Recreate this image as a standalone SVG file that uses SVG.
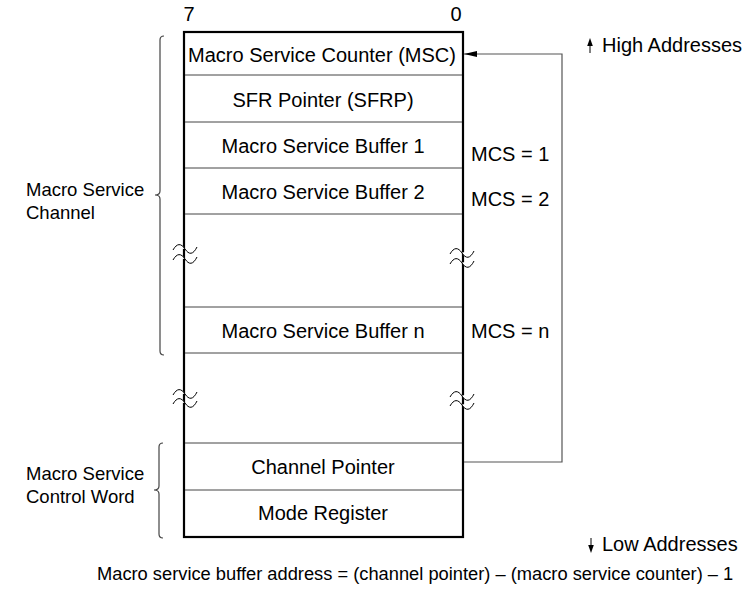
<svg xmlns="http://www.w3.org/2000/svg" width="744" height="591" viewBox="0 0 744 591">
<style>
text{font-family:"Liberation Sans",Arial,sans-serif;font-size:20px;fill:#000}
.c{text-anchor:middle}
.lbl{font-size:18.5px}
.row{stroke:#444;stroke-width:1;fill:none}
.box{stroke:#000;stroke-width:2.2;fill:none}
.brk{stroke:#000;stroke-width:1;fill:#fff}
.brace{stroke:#444;stroke-width:1.2;fill:none}
.conn{stroke:#555;stroke-width:1.2;fill:none}
.sm{stroke:#000;stroke-width:1;fill:none}
</style>
<defs>
<marker id="ah" markerWidth="14" markerHeight="8" refX="13" refY="4" orient="auto" markerUnits="userSpaceOnUse">
<path d="M0,1 L13,4 L0,7 z" fill="#000"/>
</marker>
</defs>
<rect width="744" height="591" fill="#fff"/>
<text x="189" y="21" class="c">7</text>
<text x="456" y="21" class="c">0</text>
<g id="memory">
<rect class="box" x="184" y="32" width="279" height="505"/>
<line class="row" x1="185" y1="75" x2="462" y2="75"/>
<line class="row" x1="185" y1="122" x2="462" y2="122"/>
<line class="row" x1="185" y1="168" x2="462" y2="168"/>
<line class="row" x1="185" y1="214" x2="462" y2="214"/>
<line class="row" x1="185" y1="307" x2="462" y2="307"/>
<line class="row" x1="185" y1="353" x2="462" y2="353"/>
<line class="row" x1="185" y1="443" x2="462" y2="443"/>
<line class="row" x1="185" y1="490" x2="462" y2="490"/>
</g>
<g id="msc"><text x="322" y="62" class="c">Macro Service Counter (MSC)</text></g>
<g id="sfrp"><text x="323" y="107" class="c">SFR Pointer (SFRP)</text></g>
<g id="buf1"><text x="323" y="153" class="c">Macro Service Buffer 1</text><text x="471" y="161">MCS = 1</text></g>
<g id="buf2"><text x="323" y="199" class="c">Macro Service Buffer 2</text><text x="471" y="206">MCS = 2</text></g>
<g id="bufn"><text x="323" y="338" class="c">Macro Service Buffer n</text><text x="471" y="338">MCS = n</text></g>
<g id="chp"><text x="323" y="474" class="c">Channel Pointer</text></g>
<g id="mode"><text x="323" y="520" class="c">Mode Register</text></g>
<g id="breaks">
<path class="brk" d="M173,250 C177,243 181,243 185,249 C189,255 193,255 197,247"/>
<path class="brk" d="M173,260 C177,253 181,253 185,259 C189,265 193,265 197,257"/>
<path class="brk" d="M450,254 C454,247 458,247 462,253 C466,259 470,259 474,251"/>
<path class="brk" d="M450,264 C454,257 458,257 462,263 C466,269 470,269 474,261"/>
<path class="brk" d="M173,395 C177,388 181,388 185,394 C189,400 193,400 197,392"/>
<path class="brk" d="M173,404 C177,397 181,397 185,403 C189,409 193,409 197,401"/>
<path class="brk" d="M450,397 C454,390 458,390 462,396 C466,402 470,402 474,394"/>
<path class="brk" d="M450,406 C454,399 458,399 462,405 C466,411 470,411 474,403"/>
</g>
<g id="channel-label">
<path class="brace" d="M164,36 Q160,36 160,40 L160,191 Q160,195 155,195 Q160,195 160,199 L160,351 Q160,355 164,355"/>
<text class="lbl" x="26" y="196">Macro Service</text>
<text class="lbl" x="26" y="219">Channel</text>
</g>
<g id="control-label">
<path class="brace" d="M163,443 Q159,443 159,447 L159,486 Q159,490 154,490 Q159,490 159,494 L159,534 Q159,538 163,538"/>
<text class="lbl" x="26" y="480">Macro Service</text>
<text class="lbl" x="26" y="503">Control Word</text>
</g>
<g id="addr">
<line class="sm" x1="590" y1="53" x2="590" y2="44"/>
<polygon points="587.2,46 592.8,46 590,38" fill="#000"/>
<text x="602" y="52">High Addresses</text>
<line class="sm" x1="591" y1="538" x2="591" y2="547"/>
<polygon points="588.2,545 593.8,545 591,553" fill="#000"/>
<text x="602" y="551">Low Addresses</text>
</g>
<g id="connectors">
<polyline class="conn" points="464,462 562,462 562,54 464,54" marker-end="url(#ah)"/>
</g>
<text x="97" y="580" style="font-size:18.3px">Macro service buffer address = (channel pointer) – (macro service counter) – 1</text>
</svg>
